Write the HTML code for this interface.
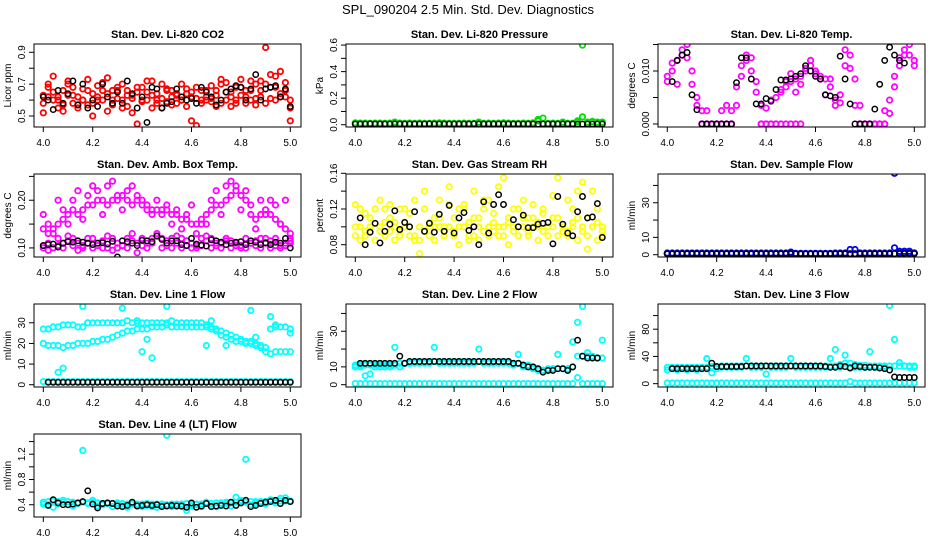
<!DOCTYPE html>
<html><head><meta charset="utf-8"><style>
body{margin:0;background:#fff}
svg{display:block;font-family:"Liberation Sans",sans-serif}
</style></head><body>
<svg id="c" width="936" height="540" viewBox="0 0 936 540">
<text x="468" y="14" font-size="13" text-anchor="middle">SPL_090204  2.5 Min. Std. Dev. Diagnostics</text>
</svg>
<script>
// shared time grid (day of year fraction)
const times = Array.from({length:51},(_,i)=>4+i*0.02);
const xTicks = [4.0,4.2,4.4,4.6,4.8,5.0];
const xTickLabels = ["4.0","4.2","4.4","4.6","4.8","5.0"];

const co2Red1=[0.63,0.68,0.6,0.55,0.66,0.7,0.58,0.62,0.67,0.57,0.64,0.69,0.6,0.53,0.66,0.61,0.7,0.56,0.63,0.68,0.59,0.65,0.72,0.6,0.55,0.67,0.62,0.58,0.7,0.64,0.47,0.61,0.66,0.6,0.69,0.63,0.58,0.71,0.65,0.6,0.68,0.62,0.72,0.57,0.66,0.7,0.61,0.68,0.64,0.71,0.6];
const co2Red2=[0.58,0.7,0.65,0.62,0.57,0.63,0.68,0.55,0.6,0.66,0.58,0.62,0.71,0.64,0.57,0.66,0.6,0.63,0.52,0.65,0.68,0.6,0.55,0.64,0.7,0.59,0.66,0.63,0.6,0.56,0.65,0.68,0.58,0.62,0.59,0.66,0.7,0.6,0.56,0.68,0.63,0.58,0.66,0.7,0.62,0.58,0.68,0.75,0.62,0.66,0.55];
const co2Red3=[0.52,0.62,0.75,0.6,0.53,0.72,0.63,0.57,0.6,0.73,0.5,0.6,0.66,0.74,0.6,0.68,0.55,0.66,0.61,0.45,0.6,0.72,0.63,0.58,0.61,0.66,0.57,0.64,0.6,0.67,0.62,0.44,0.6,0.66,0.61,0.56,0.73,0.65,0.62,0.58,0.73,0.66,0.6,0.61,0.72,0.93,0.76,0.6,0.78,0.62,0.47];
const co2Black=[0.62,0.6,0.54,0.66,0.58,0.64,0.72,0.57,0.7,0.55,0.6,0.56,0.7,0.62,0.58,0.65,0.58,0.72,0.64,0.55,0.62,0.46,0.68,0.67,0.55,0.58,0.59,0.67,0.62,0.6,0.61,0.58,0.68,0.65,0.62,0.57,0.6,0.65,0.67,0.69,0.68,0.6,0.67,0.76,0.6,0.67,0.68,0.69,0.62,0.67,0.56];

const presGreen1=[0.015,0.01,0.012,0.01,0.012,0.01,0.01,0.012,0.02,0.01,0.01,0.012,0.01,0.01,0.01,0.01,0.012,0.015,0.01,0.01,0.01,0.01,0.01,0.01,0.01,0.02,0.01,0.01,0.01,0.012,0.015,0.01,0.01,0.01,0.012,0.01,0.015,0.04,0.05,0.01,0.01,0.01,0.02,0.01,0.01,0.02,0.6,0.02,0.02,0.02,0.015];
const presGreen2=[0.01,0.012,0.01,0.01,0.01,0.012,0.01,0.01,0.01,0.012,0.01,0.01,0.01,0.012,0.01,0.01,0.01,0.01,0.012,0.01,0.01,0.01,0.012,0.01,0.01,0.01,0.01,0.012,0.01,0.01,0.01,0.012,0.01,0.01,0.01,0.01,0.012,0.03,0.01,0.01,0.012,0.01,0.01,0.01,0.01,0.03,0.06,0.01,0.025,0.015,0.02];
const presBlack=[0.005,0.005,0.005,0.006,0.005,0.005,0.005,0.005,0.006,0.005,0.005,0.005,0.005,0.005,0.005,0.006,0.005,0.005,0.005,0.005,0.005,0.005,0.005,0.005,0.006,0.005,0.005,0.005,0.005,0.005,0.005,0.005,0.005,0.005,0.005,0.005,0.005,0.005,0.005,0.005,0.005,0.005,0.005,0.005,0.005,0.005,0.005,0.005,0.005,0.005,0.005];

const tempMag1=[0.009,0.010,0.012,0.013,0.015,0.010,0.005,0.0025,0.0025,0,0,0.0025,0.0035,0.0025,0.007,0.011,0.013,0.010,0.006,0.0035,0.003,0.0045,0.005,0.0065,0.008,0.008,0.0085,0.009,0.010,0.011,0.010,0.009,0.0085,0.007,0.0045,0.004,0.011,0.013,0.0035,0,0,0,0,0,0,0.002,0.007,0.011,0.014,0.015,0.012];
const tempMag2=[0.008,0.0115,0.0075,0.014,0.0125,0.0075,0.0035,0,0,0,0,0,0,0,0.0035,0.009,0.012,0.0125,0.008,0,0,0,0,0.006,0.007,0.0095,0.006,0.0075,0.0105,0.012,0.0095,0.0085,0.0055,0.0085,0.0035,0.0055,0.014,0.0105,0.0085,0.0035,0,0,0,0,0.0025,0.0045,0.009,0.0125,0.013,0.013,0.011];
const tempMag3=[null,null,null,null,null,null,null,0,0,0,0,0,0,0,null,null,null,null,null,0,0,0,0,0,0,0,0,0,null,null,null,null,null,null,null,null,null,null,null,0,0,0,0,0,0,null,null,null,null,null,null];
const tempBlack=[null,0.008,0.012,0.013,0.0135,0.0055,0.0027,0,0,0,0,0,0,0,0.0078,0.0125,0.0125,0.0085,0.0038,0.0038,0.0048,0.0043,0.0065,0.0083,0.0083,0.0085,0.009,0.0095,0.011,0.010,0.009,0.0085,0.0055,0.0053,0.005,0.0128,0.0085,0.0038,0,0,0,0,0.0028,0.0075,0.012,0.0145,0.013,0.012,0.0115,null,null];

const ambMag1=[0.14,0.13,0.14,0.15,0.16,0.17,0.18,0.17,0.18,0.19,0.19,0.2,0.2,0.19,0.2,0.2,0.21,0.2,0.19,0.2,0.19,0.19,0.18,0.18,0.17,0.18,0.17,0.17,0.16,0.16,0.15,0.15,0.16,0.17,0.18,0.19,0.19,0.2,0.21,0.22,0.21,0.2,0.17,0.16,0.17,0.18,0.17,0.16,0.15,0.14,0.13];
const ambMag2=[0.17,0.15,0.13,0.2,0.18,0.15,0.2,0.22,0.16,0.21,0.23,0.22,0.17,0.23,0.24,0.21,0.18,0.22,0.23,0.21,0.2,0.18,0.17,0.2,0.18,0.19,0.15,0.18,0.14,0.17,0.19,0.13,0.15,0.15,0.2,0.22,0.17,0.23,0.24,0.23,0.18,0.22,0.19,0.14,0.2,0.17,0.2,0.19,0.15,0.2,0.12];
const ambMag3=[0.105,0.11,0.1,0.12,0.11,0.115,0.12,0.11,0.105,0.11,0.12,0.11,0.115,0.1,0.12,0.11,0.105,0.12,0.115,0.11,0.12,0.11,0.12,0.125,0.12,0.115,0.12,0.11,0.12,0.115,0.11,0.105,0.12,0.115,0.12,0.11,0.11,0.12,0.115,0.11,0.105,0.12,0.11,0.115,0.12,0.11,0.115,0.12,0.105,0.11,0.11];
const ambMag4=[0.1,0.095,0.1,0.105,0.1,0.125,0.105,0.095,0.1,0.12,0.1,0.105,0.1,0.125,0.095,0.1,0.105,0.1,0.13,0.09,0.105,0.1,0.11,0.13,0.1,0.105,0.1,0.125,0.1,0.105,0.1,0.1,0.105,0.125,0.1,0.105,0.1,0.115,0.1,0.105,0.1,0.1,0.11,0.105,0.1,0.12,0.1,0.105,0.1,0.105,0.115];
const ambBlack=[0.105,0.107,0.108,0.102,0.11,0.113,0.112,0.115,0.112,0.11,0.107,0.11,0.111,0.108,0.114,0.081,0.115,0.113,0.11,0.105,0.116,0.115,0.113,0.125,0.118,0.11,0.115,0.115,0.107,0.105,0.12,0.108,0.106,0.104,0.117,0.115,0.112,0.107,0.11,0.112,0.113,0.107,0.115,0.112,0.107,0.111,0.107,0.112,0.11,0.12,0.1];

const rhYel1=[0.09,0.1,0.095,0.11,0.085,0.1,0.12,0.095,0.105,0.09,0.1,0.115,0.09,0.1,0.095,0.105,0.1,0.11,0.09,0.1,0.095,0.1,0.12,0.105,0.09,0.11,0.095,0.1,0.115,0.09,0.1,0.105,0.095,0.1,0.11,0.09,0.1,0.105,0.095,0.1,0.11,0.09,0.1,0.095,0.105,0.11,0.095,0.09,0.1,0.105,0.095];
const rhYel2=[0.125,0.085,0.115,0.095,0.12,0.13,0.09,0.11,0.085,0.12,0.105,0.09,0.13,0.085,0.14,0.1,0.085,0.13,0.1,0.145,0.11,0.08,0.125,0.09,0.14,0.085,0.12,0.13,0.095,0.145,0.155,0.08,0.12,0.09,0.13,0.11,0.125,0.085,0.12,0.1,0.135,0.155,0.1,0.13,0.12,0.085,0.15,0.11,0.14,0.12,0.09];
const rhYel3=[0.1,0.12,0.09,0.1,0.12,0.095,0.105,0.125,0.1,0.095,0.12,0.1,0.085,0.07,0.12,0.09,0.11,0.1,0.095,0.125,0.09,0.12,0.1,0.085,0.11,0.1,0.13,0.09,0.105,0.1,0.09,0.11,0.1,0.12,0.1,0.095,0.11,0.1,0.115,0.09,0.1,0.11,0.095,0.09,0.1,0.14,0.1,0.075,0.1,0.085,0.1];
const rhBlack=[null,0.11,0.08,0.094,0.104,0.082,0.095,0.103,0.118,0.097,0.105,0.1,0.117,null,0.095,0.104,0.094,0.114,0.095,0.124,0.093,0.11,0.116,0.096,0.1,0.08,0.128,0.093,0.125,0.136,0.125,null,0.108,0.1,0.113,0.099,0.099,0.103,0.104,0.105,0.081,0.134,0.103,0.093,0.09,0.117,0.134,0.11,0.111,0.126,0.088];

const sfBlue1=[1,1,1,1,1,1,1,1,1,1,1,1,1,1,1,1,1,1,1,1,1,1,1,1,1,1.5,0.8,0.8,0.8,0.8,0.8,0.8,0.8,0.8,1,1,1,3,3,1,1,1,1,1,1,1,4,2,2,2,1];
const sfBlue2=[0.5,0.5,0.5,0.5,0.5,0.5,0.5,0.5,0.5,0.5,0.5,0.5,0.5,0.5,0.5,0.5,0.5,0.5,0.5,0.5,0.5,0.5,0.5,0.5,0.5,0.5,0.5,0.5,0.5,0.5,0.5,0.5,0.5,0.5,0.5,0.5,0.5,0.5,0.5,0.5,0.5,0.5,0.5,0.5,0.5,0.5,47,1,1,1,1];
const sfBlack=[0.6,0.6,0.6,0.6,0.6,0.6,0.6,0.6,0.6,0.6,0.6,0.6,0.6,0.6,0.6,0.6,0.6,0.6,0.6,0.6,0.6,0.6,0.6,0.6,0.6,0.6,0.4,0.4,0.4,0.4,0.4,0.4,0.4,0.4,0.6,0.6,0.6,0.6,0.6,0.6,0.6,0.6,0.6,0.6,0.6,0.6,0.6,0.6,0.6,0.6,0.6];

const l1Cyan1=[27,27,28,28,29,29,29,28,28,30,30,30,30,30,30,30,30,31,30,30,30,30,30,30,30,30,31,30,30,30,30,30,30,29,28,27,26,25,24,23,22,21,21,20,19,18,27,28,28,28,27];
const l1Cyan2=[20,19,19,19,18,19,19,20,20,20,21,21,22,22,23,24,25,26,26,27,27,27,28,28,28,29,28,28,28,28,28,28,28,28,27,26,24,23,22,21,21,20,20,19,18,16,15,16,16,16,16];
const l1Cyan3=[null,null,null,6,8,null,null,null,38,30,null,null,null,null,null,null,37,null,null,31,16,22,13,null,null,38,null,null,null,null,null,null,null,19,31,null,null,19,null,null,null,null,36,23,null,null,33,29,null,null,25];
const l1CyanZero=[1.5,1.5,1.5,1.5,1.5,1.5,1.5,1.5,1.5,1.5,1.5,1.5,1.5,1.5,1.5,1.5,1.5,1.5,1.5,1.5,1.5,1.5,1.5,1.5,1.5,1.5,1.5,1.5,1.5,1.5,1.5,1.5,1.5,1.5,1.5,1.5,1.5,1.5,1.5,1.5,1.5,1.5,1.5,1.5,1.5,1.5,1.5,1.5,1.5,1.5,1.5];
const l1Black=[null,1.2,1.2,1.2,1.2,1.2,1.2,1.2,1.2,1.2,1.2,1.2,1.2,1.2,1.2,1.2,1.2,1.2,1.2,1.2,1.2,1.2,1.2,1.2,1.2,1.2,1.2,1.2,1.2,1.2,1.2,1.2,1.2,1.2,1.2,1.2,1.2,1.2,1.2,1.2,1.2,1.2,1.2,1.2,1.2,1.2,1.2,1.2,1.2,1.2,1.2];

const l2Cyan1=[11,11,11,11,11,11,11,11,11,12,12,12,13,13,13,13,13,13,13,13,13,13,13,13,13,13,13,13,13,13,13,13,12,12,11,11,10,9,8,8,9,9,9,9,10,16,16,16,15,15,15];
const l2Cyan2=[10,10,5,6,10,10,10,10,21,10,12,12,12,12,12,12,21,12,12,12,12,12,12,12,12,20,12,12,12,12,12,12,11,17,10,10,9,8,8,9,9,17,9,8,24,35,44,18,16,15,25];
const l2CyanZero=[0.6,0.6,0.6,0.6,0.6,0.6,0.6,0.6,0.6,0.6,0.6,0.6,0.6,0.6,0.6,0.6,0.6,0.6,0.6,0.6,0.6,0.6,0.6,0.6,0.6,0.6,0.6,0.6,0.6,0.6,0.6,0.6,0.6,0.6,0.6,0.6,0.6,0.6,0.6,0.6,0.6,0.6,0.6,0.6,0.6,4,0.6,0.6,0.6,0.6,0.6];
const l2Black=[null,12,12,12,12,12,12,12,12,16,12,13,13,13,13,13,13,13,13,13,13,13,13,13,13,13,13,13,13,13,13,13,12,12,11,10,10,9,7,8,8,9,9,8,10,25,16,15,15,15,null];

const l3Cyan1=[24,24,24,24,24,24,24,24,24,25,25,26,26,26,26,26,26,26,26,26,26,26,26,26,26,26,26,26,26,26,26,26,26,26,26,28,30,30,28,27,27,26,26,26,26,26,26,26,26,26,26];
const l3Cyan2=[20,22,20,22,20,22,20,22,37,16,22,24,24,24,24,24,37,24,24,24,14,24,24,24,24,37,24,24,24,24,24,24,24,37,50,24,42,24,24,24,24,47,24,24,24,115,65,31,26,24,24];
const l3CyanZero=[1,1,1,1,1,1,1,1,1,1,1,1,1,1,1,1,1,1,1,1,1,1,1,1,1,1,1,1,1,1,1,1,1,1,1,1,1,3,1,1,1,1,1,1,1,1,1,1,1,1,1];
const l3Black=[null,22,22,22,22,22,22,22,22,30,25,25,25,25,25,25,26,26,26,26,26,26,26,26,26,26,26,26,26,26,26,26,25,24,24,26,25,23,26,25,24,24,24,23,22,20,10,9,9,9,9];

const l4Cyan1=[0.44,0.45,0.46,0.45,0.44,0.45,0.44,0.43,0.44,0.43,0.44,0.43,0.42,0.43,0.42,0.41,0.42,0.41,0.41,0.41,0.41,0.42,0.41,0.41,0.41,0.4,0.41,0.41,0.41,0.42,0.41,0.41,0.41,0.42,0.42,0.43,0.43,0.44,0.43,0.44,0.45,0.44,0.45,0.45,0.45,0.45,0.46,0.46,0.46,0.46,0.46];
const l4Cyan2=[0.41,0.4,0.36,0.42,0.47,0.4,0.38,0.42,1.26,0.42,0.47,0.38,0.4,0.42,0.37,0.43,0.38,0.36,0.42,0.38,0.37,0.39,0.37,0.36,0.38,1.5,0.37,0.38,0.37,0.31,0.38,0.4,0.37,0.44,0.38,0.37,0.4,0.42,0.38,0.52,0.47,1.12,0.4,0.42,0.43,0.41,0.48,0.43,0.5,0.51,0.45];
const l4Black=[null,0.39,0.48,0.43,0.4,0.4,0.41,0.43,0.45,0.62,0.41,0.35,0.42,0.43,0.42,0.38,0.37,0.39,0.44,0.38,0.39,0.4,0.39,0.4,0.37,0.38,0.39,0.38,0.38,0.36,0.43,0.36,0.38,0.42,0.37,0.38,0.39,0.38,0.44,0.39,0.43,0.47,0.37,0.39,0.42,0.44,0.45,0.47,0.42,0.47,0.45];

const NS="http://www.w3.org/2000/svg";
const svg=document.getElementById('c');
function mk(tag,attrs,parent){const e=document.createElementNS(NS,tag);for(const k in attrs)e.setAttribute(k,attrs[k]);(parent||svg).appendChild(e);return e;}

const panels=[
 {key:'co2',col:0,row:0,title:'Stan. Dev. Li-820 CO2',ylab:'Licor ppm',ylim:[0.431,0.952],ticks:[0.5,0.6,0.7,0.8,0.9],labs:{0.5:'0.5',0.7:'0.7',0.9:'0.9'},series:[[co2Red1,'#ff0000'],[co2Red2,'#ff0000'],[co2Red3,'#ff0000'],[co2Black,'#000']]},
 {key:'pressure',col:1,row:0,title:'Stan. Dev. Li-820 Pressure',ylab:'kPa',ylim:[-0.017,0.608],ticks:[0,0.1,0.2,0.3,0.4,0.5,0.6],labs:{0:'0.0',0.2:'0.2',0.4:'0.4',0.6:'0.6'},series:[[presGreen1,'#00dd00'],[presGreen2,'#00dd00'],[presBlack,'#000']]},
 {key:'temp',col:2,row:0,title:'Stan. Dev. Li-820 Temp.',ylab:'degrees C',ylim:[-0.00057,0.0151],ticks:[0,0.005,0.01,0.015],labs:{0:'0.000',0.01:'0.010'},series:[[tempMag1,'#ff00ff'],[tempMag2,'#ff00ff'],[tempMag3,'#ff00ff'],[tempBlack,'#000']]},
 {key:'ambbox',col:0,row:1,title:'Stan. Dev. Amb. Box Temp.',ylab:'degrees C',ylim:[0.081,0.255],ticks:[0.1,0.15,0.2,0.25],labs:{0.1:'0.10',0.2:'0.20'},series:[[ambMag1,'#ff00ff'],[ambMag2,'#ff00ff'],[ambMag3,'#ff00ff'],[ambMag4,'#ff00ff'],[ambBlack,'#000']]},
 {key:'rh',col:1,row:1,title:'Stan. Dev. Gas Stream RH',ylab:'percent',ylim:[0.0662,0.1592],ticks:[0.08,0.1,0.12,0.14,0.16],labs:{0.08:'0.08',0.12:'0.12',0.16:'0.16'},series:[[rhYel1,'#ffff00'],[rhYel2,'#ffff00'],[rhYel3,'#ffff00'],[rhBlack,'#000']]},
 {key:'sampleflow',col:2,row:1,title:'Stan. Dev. Sample Flow',ylab:'ml/min',ylim:[-1.33,46.6],ticks:[0,10,20,30,40],labs:{0:'0',10:'10',30:'30'},series:[[sfBlue1,'#0000ff'],[sfBlue2,'#0000ff'],[sfBlack,'#000']]},
 {key:'line1',col:0,row:2,title:'Stan. Dev. Line 1 Flow',ylab:'ml/min',ylim:[-1.1,39.1],ticks:[0,10,20,30],labs:{0:'0',10:'10',20:'20',30:'30'},series:[[l1Cyan1,'#00ffff'],[l1Cyan2,'#00ffff'],[l1Cyan3,'#00ffff'],[l1CyanZero,'#00ffff'],[l1Black,'#000']]},
 {key:'line2',col:1,row:2,title:'Stan. Dev. Line 2 Flow',ylab:'ml/min',ylim:[-1.3,45.3],ticks:[0,10,20,30,40],labs:{0:'0',10:'10',30:'30'},series:[[l2Cyan1,'#00ffff'],[l2Cyan2,'#00ffff'],[l2CyanZero,'#00ffff'],[l2Black,'#000']]},
 {key:'line3',col:2,row:2,title:'Stan. Dev. Line 3 Flow',ylab:'ml/min',ylim:[-4.9,117],ticks:[0,20,40,60,80,100],labs:{0:'0',40:'40',80:'80'},series:[[l3Cyan1,'#00ffff'],[l3Cyan2,'#00ffff'],[l3CyanZero,'#00ffff'],[l3Black,'#000']]},
 {key:'line4',col:0,row:3,title:'Stan. Dev. Line 4 (LT) Flow',ylab:'ml/min',ylim:[0.206,1.52],ticks:[0.4,0.6,0.8,1.0,1.2,1.4],labs:{0.4:'0.4',0.8:'0.8',1.2:'1.2'},series:[[l4Cyan1,'#00ffff'],[l4Cyan2,'#00ffff'],[l4Black,'#000']]}
];

const colLeft=[34,346,658], rowTop=[44,174,304,434], W=267, H=83;

panels.forEach(p=>{
  const L=colLeft[p.col], T=rowTop[p.row], B=T+H;
  const xs=v=>L+9.3+(v-4)*247;
  const ys=v=>B-(v-p.ylim[0])/(p.ylim[1]-p.ylim[0])*H;
  const g=mk('g',{});
  
  
  const clip=mk('clipPath',{id:'cl-'+p.key},g);
  mk('rect',{x:L,y:T,width:W,height:H},clip);
  const pts=mk('g',{'clip-path':'url(#cl-'+p.key+')'},g);
  
  
  p.series.forEach(([arr,col],si)=>{
    const isBlack=col==='#000';
    arr.forEach((v,i)=>{
      if(v===null||v===undefined) return;
      const c=mk('circle',{cx:xs(times[i]).toFixed(1),cy:ys(v).toFixed(1),r:2.7,fill:'none',stroke:col,'stroke-width':isBlack?1.5:1.8},pts);
      
      
    });
  });
  const box=mk('rect',{x:L,y:T,width:W,height:H,fill:'none',stroke:'#000','stroke-width':1},g);
  
  
  const t=mk('text',{x:L+W/2,y:T-6,'font-size':11,'font-weight':'bold','text-anchor':'middle'},g);
  t.textContent=p.title;
  
  
  xTicks.forEach((v,k)=>{
    mk('line',{x1:xs(v),x2:xs(v),y1:B,y2:B+5,stroke:'#000'},g);
    const tl=mk('text',{x:xs(v),y:B+19,'font-size':10,'text-anchor':'middle'},g);
    tl.textContent=xTickLabels[k];
    
    
  });
  p.ticks.forEach(v=>{
    const y=ys(v);
    mk('line',{x1:L-5,x2:L,y1:y,y2:y,stroke:'#000'},g);
    if(p.labs[v]!==undefined){
      const lx=L-9;
      const yl=mk('text',{x:lx,y:y,'font-size':10,'text-anchor':'middle',transform:'rotate(-90 '+lx+' '+y+')'},g);
      yl.textContent=p.labs[v];
      
      
    }
  });
  const ylx=L-23, yly=T+H/2;
  const ylab=mk('text',{x:ylx,y:yly,'font-size':10,'text-anchor':'middle',transform:'rotate(-90 '+ylx+' '+yly+')'},g);
  ylab.textContent=p.ylab;
  
  
});
</script>
</body></html>
